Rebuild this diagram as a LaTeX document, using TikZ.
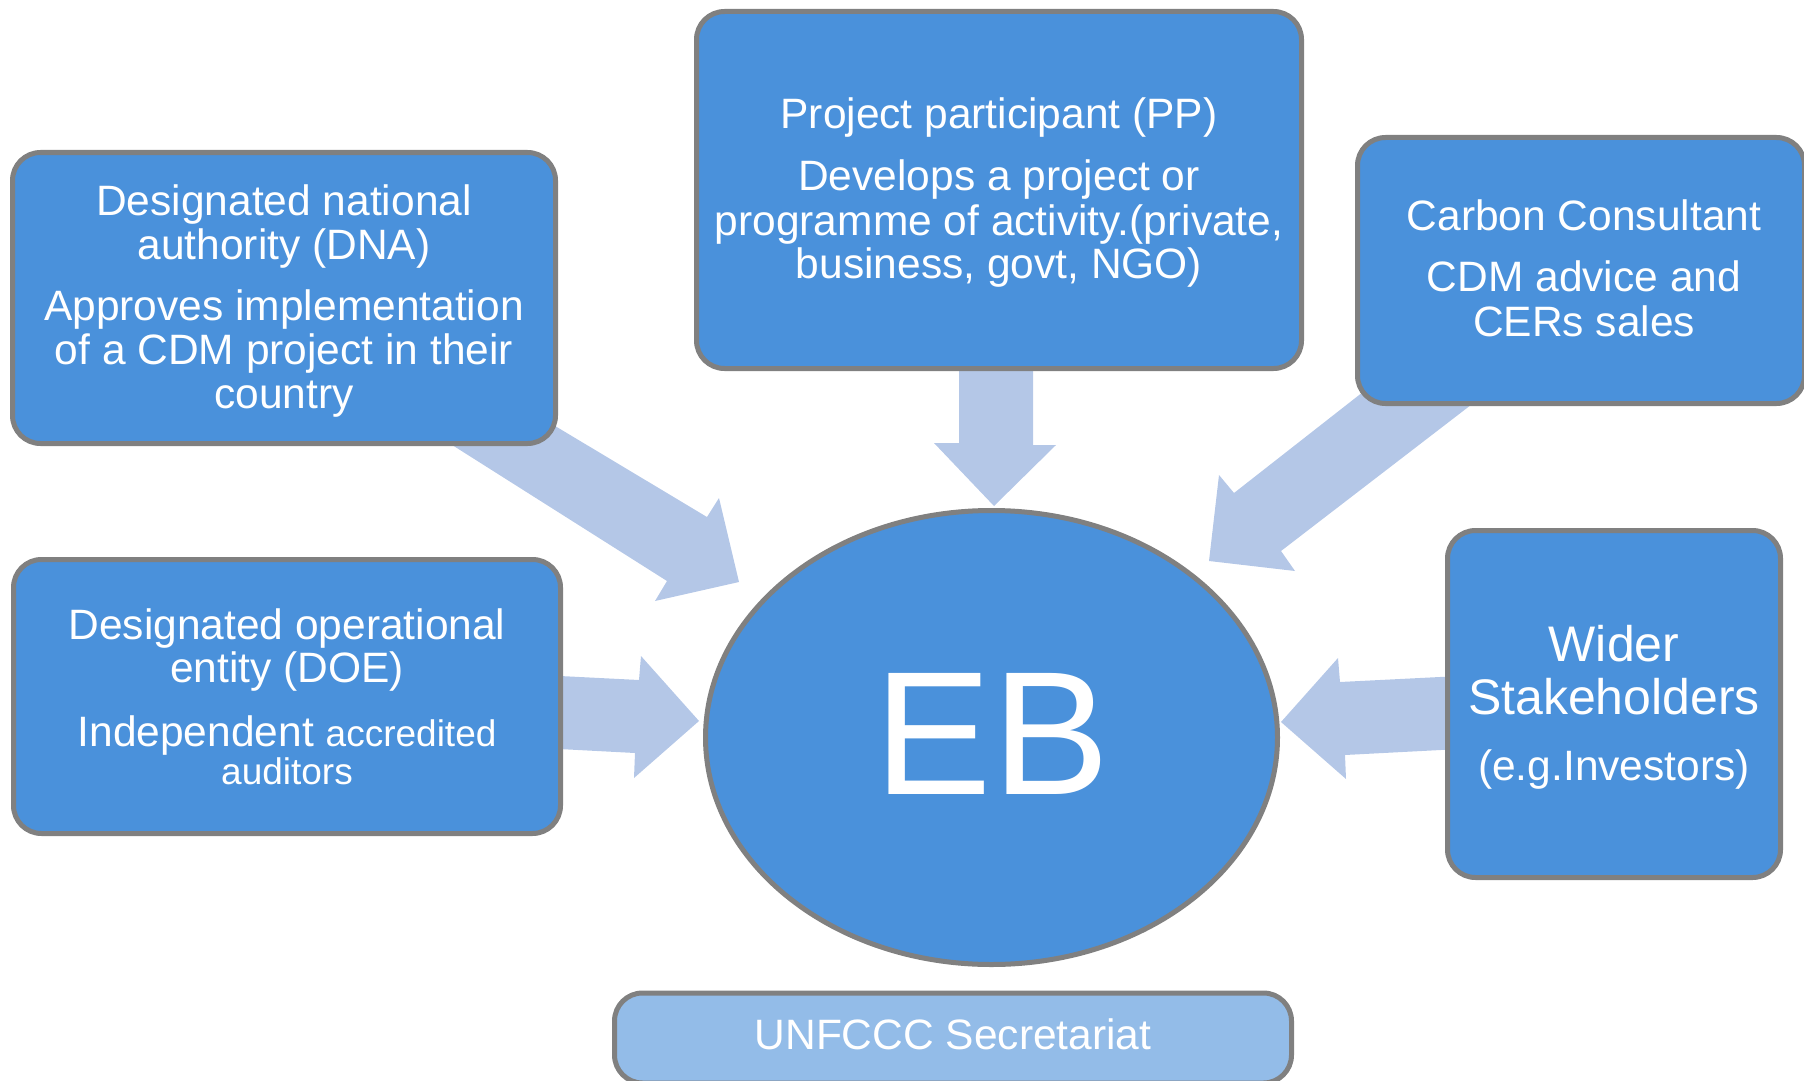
\documentclass[tikz,border=0pt]{standalone}
\usepackage{fontspec}
\setmainfont{Liberation Sans}
\usetikzlibrary{shapes.geometric}
\definecolor{boxblue}{RGB}{74,145,219}
\definecolor{arrowblue}{RGB}{180,199,231}
\definecolor{lightbox}{RGB}{147,188,232}
\definecolor{edgegray}{RGB}{128,128,128}
\begin{document}
\begin{tikzpicture}[x=0.5pt,y=-0.5pt,
  box/.style={rectangle, draw=edgegray, line width=2.5pt, fill=boxblue, rounded corners=14pt, inner sep=0pt},
  blockarrow/.style={fill=arrowblue, draw=none},
  lbl/.style={text=white, anchor=base, inner sep=0pt, font=\fontsize{21.25}{24}\selectfont},
  biglbl/.style={lbl, font=\fontsize{25}{28}\selectfont},
  eblbl/.style={lbl, font=\fontsize{88}{96}\selectfont}]
\useasboundingbox (0,0) rectangle (1804,1081);

% block arrows (drawn first, under boxes)
\coordinate (tipdna) at (739,582);
\coordinate (tippp) at (994,506);
\coordinate (tipcc) at (1209,561);
\coordinate (tipdoe) at (699,721);
\coordinate (tipws) at (1281,722);
\fill[blockarrow] (470,375) -- (707,517) -- (719,498) -- (tipdna) -- (655,601) -- (667,581) -- (400,412) -- cycle;
\fill[blockarrow] (959,350) -- (959,443) -- (934,443) -- (tippp) -- (1056,445) -- (1033,445) -- (1033,350) -- cycle;
\fill[blockarrow] (1400,363) -- (1234,493) -- (1219,475) -- (tipcc) -- (1295,571) -- (1281,551) -- (1480,398) -- cycle;
\fill[blockarrow] (540,675) -- (639,680) -- (641,656) -- (tipdoe) -- (634,778) -- (635,753) -- (540,748) -- cycle;
\fill[blockarrow] (1460,676) -- (1340,682) -- (1338,658) -- (tipws) -- (1346,779) -- (1345,755) -- (1460,749) -- cycle;

% boxes
\node[box, minimum width=271.5pt, minimum height=145.5pt] (dna) at (284,298) {};
\node[box, minimum width=302.5pt, minimum height=178.5pt] (pp) at (999,190) {};
\node[box, minimum width=223.5pt, minimum height=133pt] (cc) at (1581,270.5) {};
\node[box, minimum width=273.5pt, minimum height=137pt] (doe) at (287,696.5) {};
\node[box, minimum width=166.5pt, minimum height=173.5pt] (ws) at (1614,704) {};
\node[box, fill=lightbox, minimum width=338.5pt, minimum height=45pt] (unfccc) at (953,1038) {};
\node[ellipse, draw=edgegray, line width=2.5pt, fill=boxblue, inner sep=0pt, minimum width=286pt, minimum height=227pt] (eb) at (991.5,737.5) {};

% texts
\node[lbl] (dna1) at (284,215) {Designated national};
\node[lbl] (dna2) at (284,259) {authority (DNA)};
\node[lbl] (dna3) at (284,320) {Approves implementation};
\node[lbl] (dna4) at (284,364) {of a CDM project in their};
\node[lbl] (dna5) at (284,408) {country};

\node[lbl] (pp1) at (999,129) {Project participant (PP)};
\node[lbl] (pp2) at (999,191) {Develops a project or};
\node[lbl] (pp3) at (999,235) {programme of activity.(private,};
\node[lbl] (pp4) at (999,278) {business, govt, NGO)};

\node[lbl] (cc1) at (1584,230) {Carbon Consultant};
\node[lbl] (cc2) at (1584,291) {CDM advice and};
\node[lbl] (cc3) at (1584,336) {CERs sales};

\node[lbl] (doe1) at (287,639) {Designated operational};
\node[lbl] (doe2) at (287,682) {entity (DOE)};
\node[lbl] (doe3) at (287,746) {Independent {\fontsize{18.5}{21}\selectfont accredited}};
\node[lbl, font=\fontsize{18.5}{21}\selectfont] (doe4) at (287,784) {auditors};

\node[biglbl] (ws1) at (1614,661) {Wider};
\node[biglbl] (ws2) at (1614,714) {Stakeholders};
\node[lbl] (ws3) at (1614,780) {(e.g.Investors)};

\node[eblbl] (ebtext) at (992,794) {EB};
\node[lbl] (un1) at (953,1049) {UNFCCC Secretariat};
\end{tikzpicture}
\end{document}
